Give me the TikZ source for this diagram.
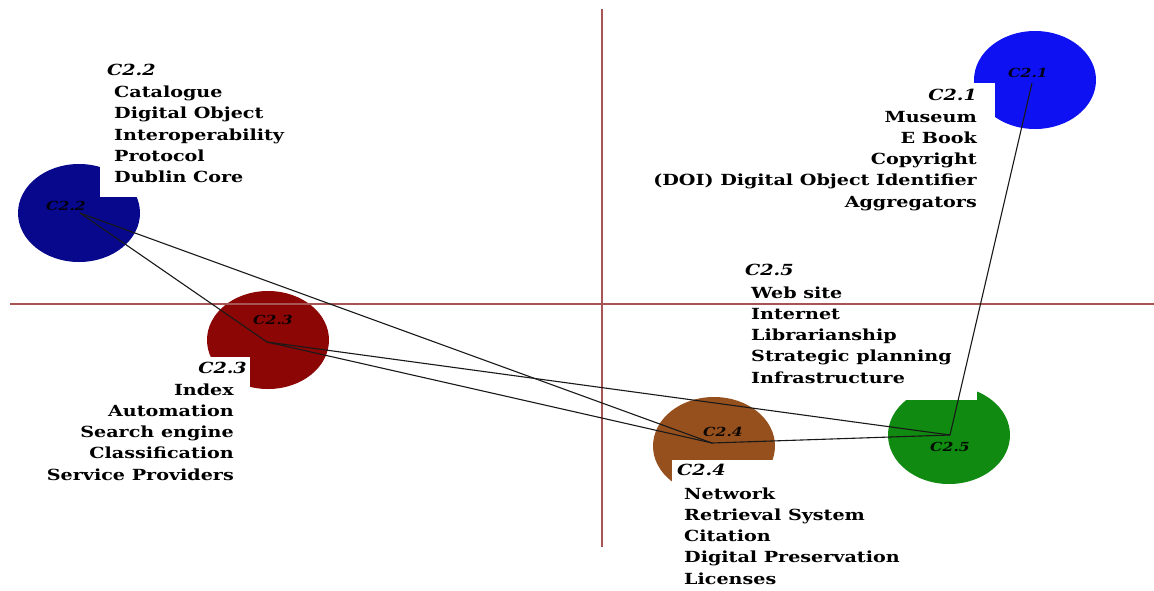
\documentclass[tikz,border=0pt]{standalone}
\usepackage{fontspec}
\setmainfont{DejaVu Serif}
\usepackage{graphicx}
\usetikzlibrary{shapes.geometric}

\definecolor{clA}{RGB}{14,18,242}
\definecolor{clB}{RGB}{8,8,140}
\definecolor{clC}{RGB}{140,6,6}
\definecolor{clD}{RGB}{150,80,30}
\definecolor{clE}{RGB}{16,138,16}
\definecolor{axisred}{RGB}{168,84,84}

% horizontally widened text
\newcommand{\wideText}[1]{\scalebox{1.25}[1]{#1}}
% a list of terms, one per row
\newcommand{\termlist}[2]{\wideText{\fontsize{15.3}{21.3}\selectfont\bfseries
  \begin{tabular}[t]{@{}#1@{}}#2\end{tabular}}}

\tikzset{
  blob/.style={ellipse, minimum width=122pt, minimum height=98pt, inner sep=0pt, draw=none},
  link/.style={draw=black!90, line width=1.1pt},
  axisline/.style={draw=axisred, line width=1.3pt},
  hdr/.style={inner sep=0pt, font=\fontsize{15.3}{18}\selectfont\bfseries\itshape},
  terms/.style={inner sep=0pt},
  tag/.style={inner sep=0pt, font=\fontsize{12.5}{14}\selectfont\bfseries\itshape, text=black, text opacity=0.9},
}

\begin{document}
\begin{tikzpicture}[x=1pt,y=-1pt]
\useasboundingbox (0,0) rectangle (1154,590);
\fill[white] (0,0) rectangle (1154,590);

% cluster discs
\node[blob, fill=clA] (c1) at (1035,80) {};
\node[blob, fill=clB] (c2) at (79,213) {};
\node[blob, fill=clC] (c3) at (268,340) {};
\node[blob, fill=clD] (c4) at (714,446) {};
\node[blob, fill=clE] (c5) at (949,435) {};

% small tags on the discs
\node[tag] (t1) at (1028,73) {\wideText{C2.1}};
\node[tag] (t2) at (66,206) {\wideText{C2.2}};
\node[tag] (t3) at (273,320) {\wideText{C2.3}};
\node[tag] (t4) at (723,432) {\wideText{C2.4}};
\node[tag] (t5) at (950,447) {\wideText{C2.5}};

% white panels behind the term lists
\fill[white] (660,83) rectangle (995,215);
\fill[white] (100,55) rectangle (300,197);
\fill[white] (40,357) rectangle (250,490);
\fill[white] (672,460) rectangle (880,590);
\fill[white] (740,258) rectangle (977,400);

% quadrant axes
\draw[axisline] (10,304) -- (1154,304);
\draw[axisline] (602,9) -- (602,547);

% hub points of the clusters
\coordinate (h1) at (1032,83);
\coordinate (h2) at (80,213);
\coordinate (h3) at (267,342);
\coordinate (h4) at (712,443);
\coordinate (h5) at (950,435);

\draw[link] (h2) -- (h3);
\draw[link] (h2) -- (h4);
\draw[link] (h3) -- (h4);
\draw[link] (h3) -- (h5);
\draw[link] (h4) -- (h5);
\draw[link] (h5) -- (h1);

% term lists
\node[hdr, anchor=base east] (l1h) at (977,100) {\wideText{C2.1}};
\node[terms, anchor=base east] (l1) at (977,122)
  {\termlist{r}{Museum\\E Book\\Copyright\\(DOI) Digital Object Identifier\\Aggregators}};

\node[hdr, anchor=base west] (l2h) at (107,75) {\wideText{C2.2}};
\node[terms, anchor=base west] (l2) at (114,97.5)
  {\termlist{l}{Catalogue\\Digital Object\\Interoperability\\Protocol\\Dublin Core}};

\node[hdr, anchor=base east] (l3h) at (247,373) {\wideText{C2.3}};
\node[terms, anchor=base east] (l3) at (234,395)
  {\termlist{r}{Index\\Automation\\Search engine\\Classification\\Service Providers}};

\node[hdr, anchor=base west] (l4h) at (677,475) {\wideText{C2.4}};
\node[terms, anchor=base west] (l4) at (684,499)
  {\termlist{l}{Network\\Retrieval System\\Citation\\Digital Preservation\\Licenses}};

\node[hdr, anchor=base west] (l5h) at (745,275) {\wideText{C2.5}};
\node[terms, anchor=base west] (l5) at (751,298)
  {\termlist{l}{Web site\\Internet\\Librarianship\\Strategic planning\\Infrastructure}};
\end{tikzpicture}
\end{document}
